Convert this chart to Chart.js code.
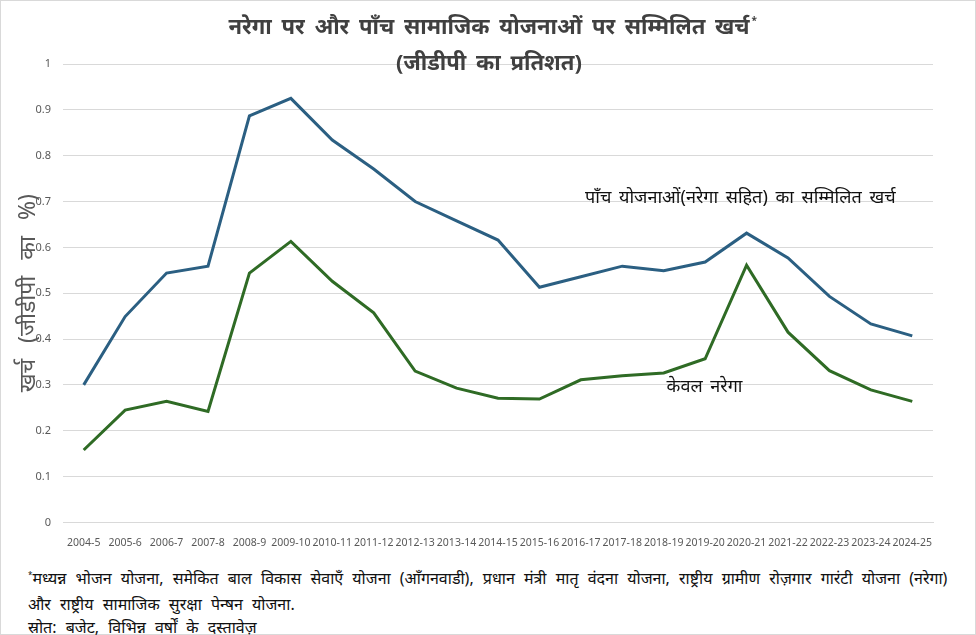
<!DOCTYPE html>
<html lang="hi">
<head>
<meta charset="utf-8">
<title>नरेगा पर और पाँच सामाजिक योजनाओं पर सम्मिलित खर्च</title>
<script src="https://cdn.jsdelivr.net/npm/chart.js@4.4.1/dist/chart.umd.min.js"></script>
<style>
    html, body {
        margin: 0;
        padding: 0;
        background: #ffffff;
    }
    .frame {
        position: relative;
        width: 974px;
        height: 633px;
        border: 1px solid #d9d9d9;
        font-family: "Noto Sans", "Liberation Sans", sans-serif;
    }
    #chartWrap {
        position: absolute;
        left: 0;
        top: 0;
        width: 974px;
        height: 560px;
    }
    .note {
        position: absolute;
        left: 27px;
        font-size: 16px;
        word-spacing: 5px;
        color: #111111;
        white-space: nowrap;
    }
    .note sup {
        font-size: 8px;
    }
</style>
</head>
<body>
<div class="frame">
    <div id="chartWrap"><canvas id="spendChart"></canvas></div>
    <div class="note" style="top:566px"><sup>*</sup>मध्यन्न भोजन योजना, समेकित बाल विकास सेवाएँ योजना (आँगनवाडी), प्रधान मंत्री मातृ वंदना योजना, राष्ट्रीय ग्रामीण रोज़गार गारंटी योजना (नरेगा)</div>
    <div class="note" style="top:592px">और राष्ट्रीय सामाजिक सुरक्षा पेन्षन योजना.</div>
    <div class="note" style="top:615px">स्रोत: बजेट, विभिन्न वर्षों के दस्तावेज़</div>
</div>
<script>
// वर्ष (x-अक्ष)
const years = ['2004-5', '2005-6', '2006-7', '2007-8', '2008-9', '2009-10', '2010-11',
    '2011-12', '2012-13', '2013-14', '2014-15', '2015-16', '2016-17', '2017-18',
    '2018-19', '2019-20', '2020-21', '2021-22', '2022-23', '2023-24', '2024-25'];

// पाँच योजनाओं (नरेगा सहित) का सम्मिलित खर्च, जीडीपी का %
const fiveSchemes = [0.30, 0.449, 0.544, 0.559, 0.887, 0.925, 0.834, 0.771, 0.70, 0.658,
    0.616, 0.513, 0.536, 0.559, 0.549, 0.568, 0.631, 0.577, 0.493, 0.433, 0.407];

// केवल नरेगा, जीडीपी का %
const naregaOnly = [0.158, 0.245, 0.264, 0.242, 0.544, 0.613, 0.526, 0.457, 0.330, 0.293,
    0.271, 0.269, 0.311, 0.32, 0.326, 0.357, 0.561, 0.415, 0.331, 0.289, 0.264];

const yTicks = [0, 0.1, 0.2, 0.3, 0.4, 0.5, 0.6, 0.7, 0.8, 0.9, 1];

const titleLines = ['नरेगा पर और पाँच सामाजिक योजनाओं पर सम्मिलित खर्च', '(जीडीपी का प्रतिशत)'];
const yAxisTitle = 'खर्च (जीडीपी का %)';
const seriesLabels = ['पाँच योजनाओं(नरेगा सहित) का सम्मिलित खर्च', 'केवल नरेगा'];

const FONT = '"Noto Sans", "Liberation Sans", sans-serif';

// शीर्षक, अक्ष-शीर्षक और रेखाओं के नाम सीधे कैनवस पर
const textPlugin = {
    id: 'textPlugin',
    afterDraw(chart) {
        const ctx = chart.ctx;
        const x = chart.scales.x;
        const y = chart.scales.y;
        const area = chart.chartArea;
        ctx.save();
        ctx.textAlign = 'center';
        ctx.textBaseline = 'middle';
        ctx.fillStyle = '#404040';
        ctx.font = 'bold 22px ' + FONT;
        ctx.wordSpacing = '4px';
        ctx.fillText(titleLines[0], 488, 27);
        const w = ctx.measureText(titleLines[0]).width;
        ctx.fillText(titleLines[1], 488, 63);
        ctx.font = 'bold 10px ' + FONT;
        ctx.textAlign = 'left';
        ctx.fillText('*', 488 + w / 2 + 2, 20);

        // y-अक्ष शीर्षक
        ctx.save();
        ctx.translate(27, (area.top + area.bottom) / 2);
        ctx.rotate(-Math.PI / 2);
        ctx.textAlign = 'center';
        ctx.fillStyle = '#595959';
        ctx.font = '23px ' + FONT;
        ctx.wordSpacing = '10px';
        ctx.fillText(yAxisTitle, 0, 0);
        ctx.restore();

        ctx.fillStyle = '#111111';
        ctx.font = '18px ' + FONT;
        ctx.wordSpacing = '3px';
        ctx.fillText(seriesLabels[0], x.getPixelForValue(12.1), y.getPixelForValue(0.709));
        ctx.fillText(seriesLabels[1], x.getPixelForValue(14.07), y.getPixelForValue(0.295));
        ctx.restore();
    }
};

document.addEventListener('DOMContentLoaded', () => {
    const ctx = document.getElementById('spendChart').getContext('2d');
    new Chart(ctx, {
        type: 'line',
        data: {
            labels: years,
            datasets: [{
                label: seriesLabels[0],
                data: fiveSchemes,
                borderColor: '#2b5f82',
                borderWidth: 3,
                pointRadius: 0,
                tension: 0,
                fill: false
            }, {
                label: seriesLabels[1],
                data: naregaOnly,
                borderColor: '#2f6b25',
                borderWidth: 3,
                pointRadius: 0,
                tension: 0,
                fill: false
            }]
        },
        options: {
            responsive: true,
            maintainAspectRatio: false,
            animation: false,
            layout: {
                padding: { top: 63, right: 42, bottom: 6, left: 0 }
            },
            plugins: {
                legend: { display: false },
                tooltip: { enabled: false },
                title: { display: false }
            },
            scales: {
                x: {
                    offset: true,
                    grid: { display: false },
                    border: { display: true, color: '#d9d9d9' },
                    ticks: {
                        color: '#595959',
                        font: { family: FONT, size: 10.5 },
                        autoSkip: false,
                        maxRotation: 0,
                        minRotation: 0,
                        padding: 6
                    }
                },
                y: {
                    min: 0,
                    max: 1,
                    afterBuildTicks: (axis) => {
                        axis.ticks = yTicks.map(v => ({ value: v }));
                    },
                    afterFit: (axis) => {
                        axis.width = 62;
                    },
                    grid: { color: '#d9d9d9', drawTicks: false },
                    border: { display: false },
                    ticks: {
                        color: '#595959',
                        font: { family: FONT, size: 11 },
                        padding: 12,
                        callback: (v) => String(Math.round(v * 10) / 10)
                    }
                }
            }
        },
        plugins: [textPlugin]
    });
});
</script>
</body>
</html>
